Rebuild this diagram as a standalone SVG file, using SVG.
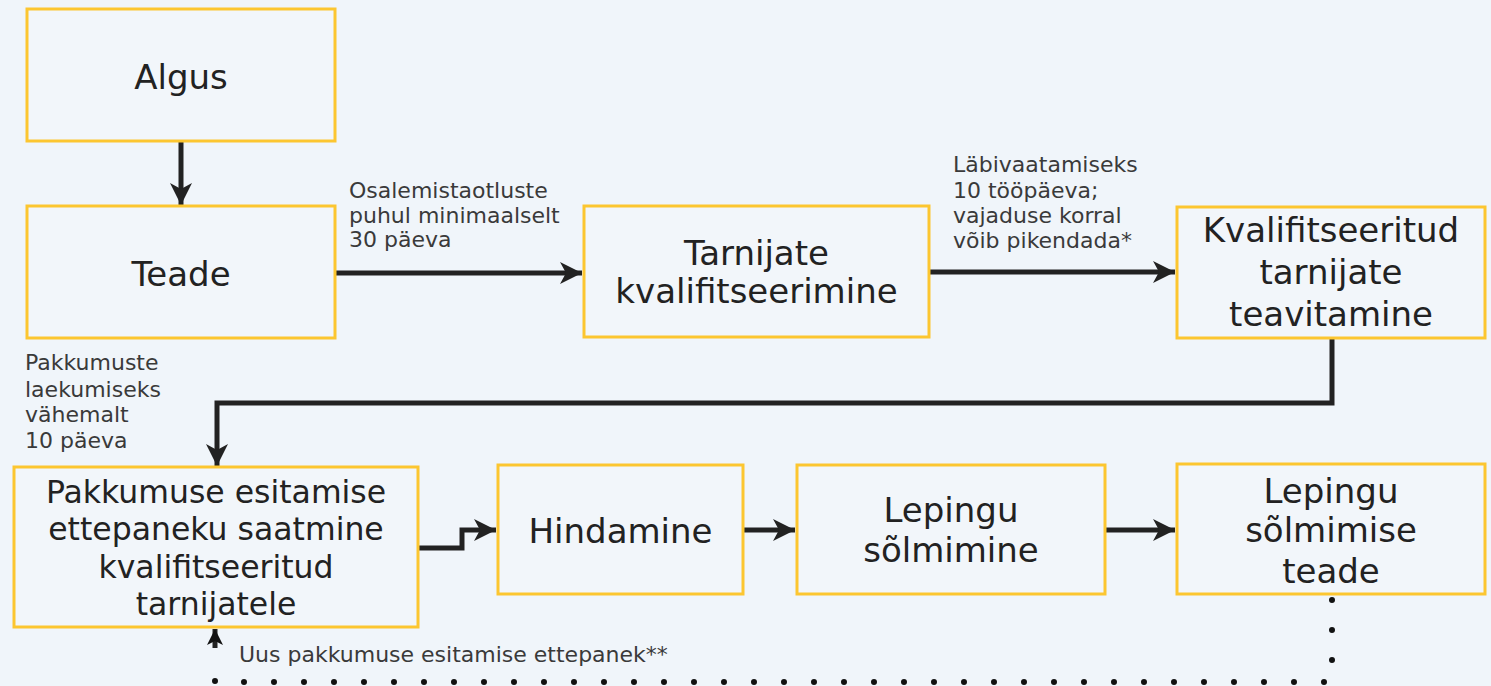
<svg xmlns="http://www.w3.org/2000/svg" width="1491" height="686" viewBox="0 0 1491 686">
<style>
.bg{fill:#f0f5fa}
.box{fill:#f2f6fa;stroke:#fcc630;stroke-width:3}
.t{font-family:"DejaVu Sans",Verdana,sans-serif;font-size:34px;fill:#222;text-anchor:middle}
.t2{font-size:31.5px}
.lbl{font-family:"DejaVu Sans",Verdana,sans-serif;font-size:22px;fill:#3a3a3a}
.con{fill:none;stroke:#222;stroke-width:5}
.dot{fill:none;stroke:#111;stroke-width:6;stroke-linecap:round;stroke-dasharray:0 30}
</style>
<defs>
<marker id="ah" markerUnits="userSpaceOnUse" markerWidth="26" markerHeight="26" viewBox="0 0 26 26" refX="24" refY="13" orient="auto">
<path d="M2,2 L24,13 L2,24 L8,13 z" fill="#222"/>
</marker>
<marker id="ahs" markerUnits="userSpaceOnUse" markerWidth="20" markerHeight="20" viewBox="0 0 20 20" refX="18" refY="10" orient="auto">
<path d="M2,2 L18,10 L2,18 L6,10 z" fill="#111"/>
</marker>
</defs>
<rect class="bg" x="0" y="0" width="1491" height="686"/>
<g id="connectors">
<path class="con" d="M181,141 V205" marker-end="url(#ah)"/>
<path class="con" d="M335,273 H582" marker-end="url(#ah)"/>
<path class="con" d="M929,272 H1175" marker-end="url(#ah)"/>
<path class="con" d="M1332,338 V403 H217 V466" marker-end="url(#ah)"/>
<path class="con" d="M418,548 H462 V530 H496" marker-end="url(#ah)"/>
<path class="con" d="M743,530 H795" marker-end="url(#ah)"/>
<path class="con" d="M1105,530 H1175" marker-end="url(#ah)"/>
<path class="dot" d="M1332,600 V682 H215 V652"/>
<path class="con" d="M215,648 V629" stroke-width="4" marker-end="url(#ahs)"/>
</g>
<g id="algus">
<rect class="box" x="27" y="9" width="308" height="132"/>
<text class="t" x="181" y="89">Algus</text>
</g>
<g id="teade">
<rect class="box" x="27" y="206" width="308" height="132"/>
<text class="t" x="181" y="286">Teade</text>
</g>
<g id="tarnijate">
<rect class="box" x="584" y="206" width="345" height="131"/>
<text class="t" x="756.5" y="265">Tarnijate</text>
<text class="t" x="756.5" y="303">kvalifitseerimine</text>
</g>
<g id="kvalif">
<rect class="box" x="1177" y="207" width="308" height="131"/>
<text class="t" x="1331" y="242">Kvalifitseeritud</text>
<text class="t" x="1331" y="284">tarnijate</text>
<text class="t" x="1331" y="326">teavitamine</text>
</g>
<g id="pakkumuse">
<rect class="box" x="14" y="467" width="404" height="160"/>
<text class="t t2" x="216" y="503">Pakkumuse esitamise</text>
<text class="t t2" x="216" y="540">ettepaneku saatmine</text>
<text class="t t2" x="216" y="578">kvalifitseeritud</text>
<text class="t t2" x="216" y="615">tarnijatele</text>
</g>
<g id="hindamine">
<rect class="box" x="498" y="465" width="245" height="129"/>
<text class="t" x="620.5" y="543">Hindamine</text>
</g>
<g id="lepingu">
<rect class="box" x="797" y="465" width="308" height="129"/>
<text class="t" x="951" y="522">Lepingu</text>
<text class="t" x="951" y="562">sõlmimine</text>
</g>
<g id="teade2">
<rect class="box" x="1177" y="464" width="308" height="130"/>
<text class="t" x="1331" y="503">Lepingu</text>
<text class="t" x="1331" y="542">sõlmimise</text>
<text class="t" x="1331" y="583">teade</text>
</g>
<g id="labels">
<text class="lbl" x="349" y="198">Osalemistaotluste</text>
<text class="lbl" x="349" y="223">puhul minimaalselt</text>
<text class="lbl" x="349" y="247">30 päeva</text>
<text class="lbl" x="953" y="172">Läbivaatamiseks</text>
<text class="lbl" x="953" y="198">10 tööpäeva;</text>
<text class="lbl" x="953" y="223">vajaduse korral</text>
<text class="lbl" x="953" y="248">võib pikendada*</text>
<text class="lbl" x="25" y="370">Pakkumuste</text>
<text class="lbl" x="25" y="397">laekumiseks</text>
<text class="lbl" x="25" y="422">vähemalt</text>
<text class="lbl" x="25" y="448">10 päeva</text>
<text class="lbl" x="239" y="662">Uus pakkumuse esitamise ettepanek**</text>
</g>
</svg>
